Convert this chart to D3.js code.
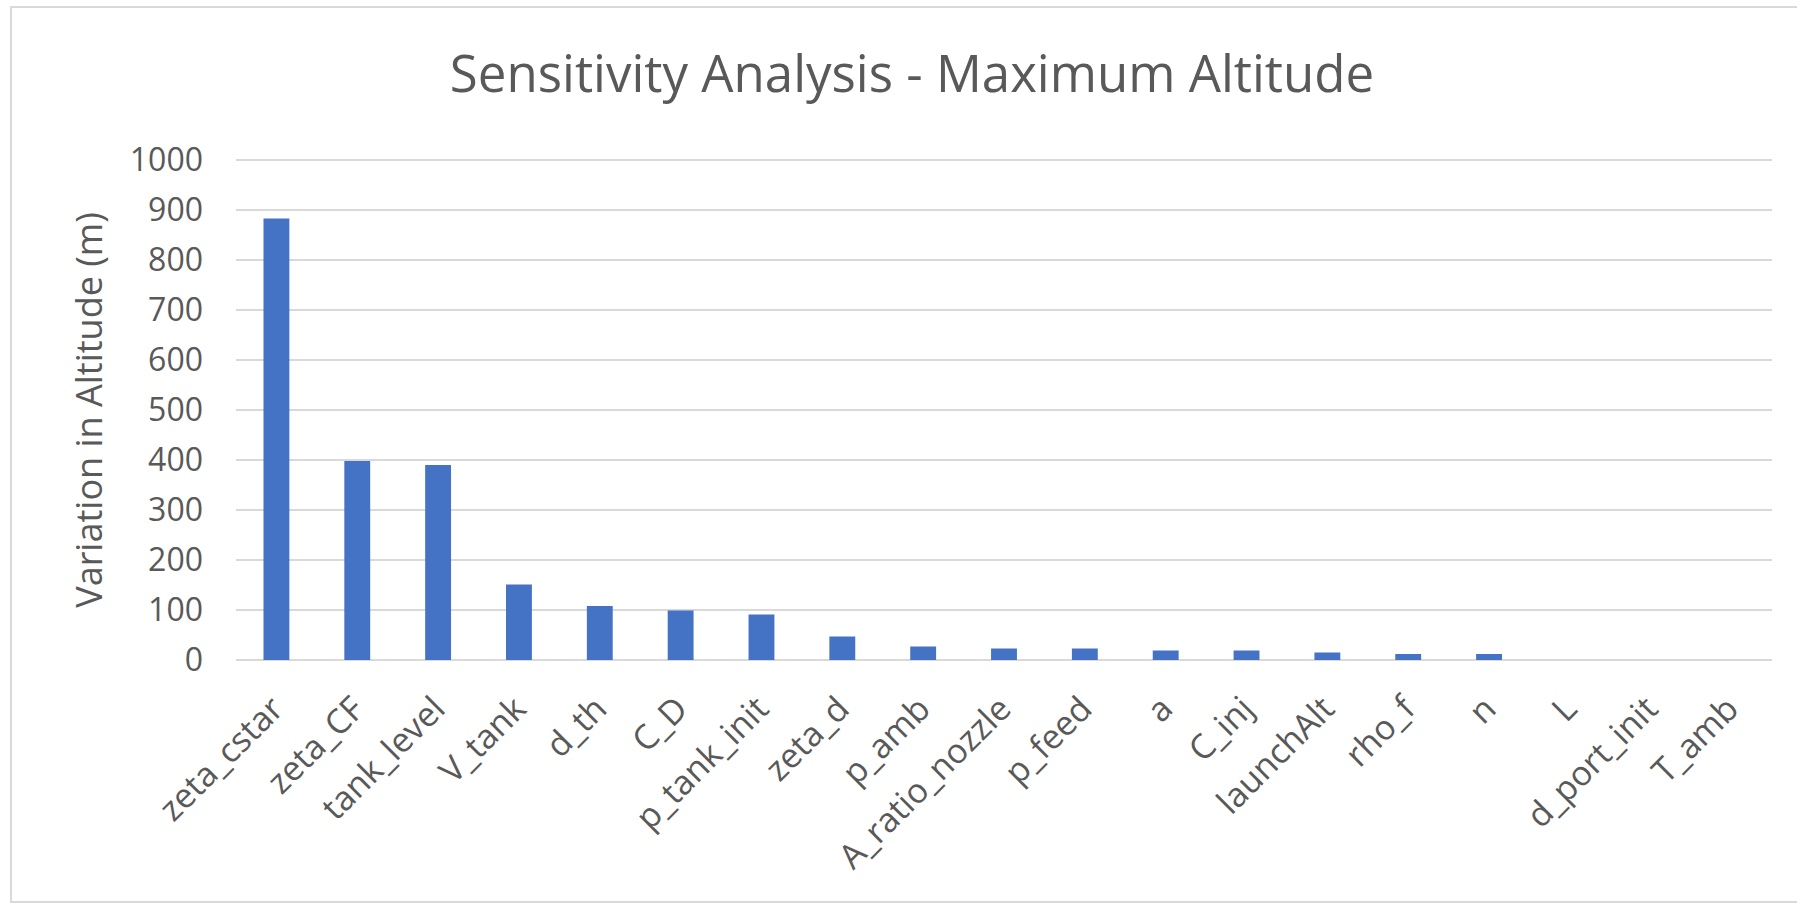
<!DOCTYPE html>
<html>
<head>
<meta charset="utf-8">
<script src="https://cdn.jsdelivr.net/npm/d3@7"></script>
<style>
  html, body { margin: 0; padding: 0; background: #fff; }
  svg { display: block; }
  text { font-family: "Open Sans", "Noto Sans", sans-serif; fill: #595959; }
</style>
</head>
<body>
<svg id="chart" width="1797" height="904"></svg>
<script>
// Parameters, ordered by their effect on maximum altitude
const parameters = ["zeta_cstar", "zeta_CF", "tank_level", "V_tank", "d_th", "C_D",
  "p_tank_init", "zeta_d", "p_amb", "A_ratio_nozzle", "p_feed", "a", "C_inj",
  "launchAlt", "rho_f", "n", "L", "d_port_init", "T_amb"];
// Variation in altitude (m)
const variation = [883, 398, 390, 151, 108, 99, 91, 47, 27, 23, 23, 19, 19, 15, 12, 12, 0, 0, 0];
const yTicks = [0, 100, 200, 300, 400, 500, 600, 700, 800, 900, 1000];

const svg = d3.select("#chart");
const H = 904;
const plot = { left: 236, right: 1772, top: 160, bottom: 660 };

// chart frame (its right edge runs past the page)
svg.append("rect")
  .attr("x", 11).attr("y", 7)
  .attr("width", 1820).attr("height", H - 7 - 2)
  .attr("fill", "#fff").attr("stroke", "#d9d9d9").attr("stroke-width", 2);

const x = d3.scaleBand().domain(parameters).range([plot.left, plot.right]).padding(0);
const y = d3.scaleLinear().domain([0, 1000]).range([plot.bottom, plot.top]);

// horizontal gridlines
svg.append("g")
  .selectAll("line").data(yTicks).join("line")
  .attr("x1", plot.left).attr("x2", plot.right)
  .attr("y1", d => y(d)).attr("y2", d => y(d))
  .attr("stroke", "#d9d9d9").attr("stroke-width", 2);

// y axis labels
const yAxis = d3.axisLeft(y).tickValues(yTicks).tickFormat(d3.format("d")).tickSize(0).tickPadding(33);
const gy = svg.append("g").attr("transform", `translate(${plot.left},0)`).call(yAxis);
gy.select(".domain").remove();
gy.selectAll("text")
  .attr("font-size", 32).attr("fill", "#595959")
  .style("font-family", '"Open Sans", sans-serif');

// bars
const barW = x.bandwidth() * 0.32;
svg.append("g")
  .selectAll("rect").data(parameters).join("rect")
  .attr("x", (d) => x(d) + (x.bandwidth() - barW) / 2)
  .attr("width", barW)
  .attr("y", (d, i) => y(variation[i]))
  .attr("height", (d, i) => y(0) - y(variation[i]))
  .attr("fill", "#4472c4");

// category labels, rotated
const xAxis = d3.axisBottom(x).tickSize(0).tickPadding(0);
const gx = svg.append("g").attr("transform", `translate(0,${plot.bottom})`).call(xAxis);
gx.select(".domain").remove();
gx.selectAll("text")
  .attr("font-size", 34).attr("fill", "#595959")
  .style("font-family", '"Open Sans", sans-serif')
  .attr("text-anchor", "end")
  .attr("dy", null).attr("y", null)
  .attr("transform", "translate(9,51) rotate(-45)");

// y axis title
svg.append("text")
  .attr("transform", `translate(92,410) rotate(-90)`)
  .attr("text-anchor", "middle")
  .attr("dominant-baseline", "middle")
  .attr("font-size", 36)
  .text("Variation in Altitude (m)");

// title
svg.append("text")
  .attr("x", 912).attr("y", 92)
  .attr("text-anchor", "middle")
  .attr("font-size", 51)
  .text("Sensitivity Analysis - Maximum Altitude");
</script>
</body>
</html>
